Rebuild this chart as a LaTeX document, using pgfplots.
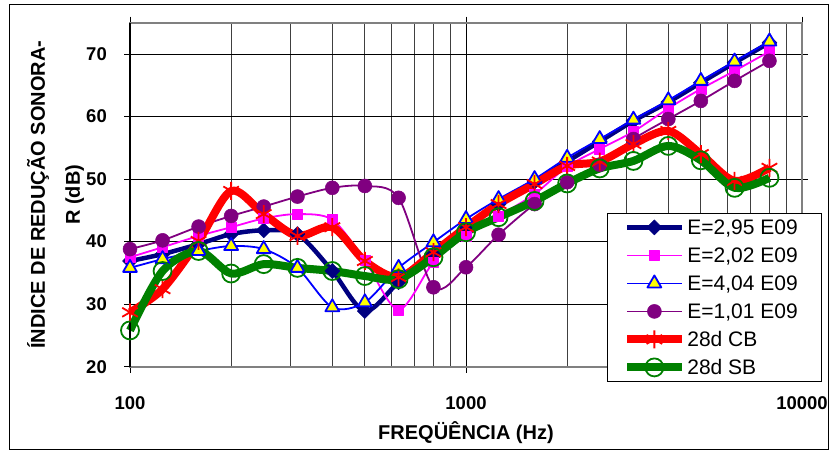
\documentclass[border=0pt]{standalone}
\usepackage{fontspec}
\setmainfont{Liberation Sans}
\usepackage{pgfplots}
\pgfplotsset{compat=1.18}

\definecolor{cnavy}{RGB}{0,0,128}
\definecolor{cpink}{RGB}{255,0,255}
\definecolor{cblue}{RGB}{0,0,255}
\definecolor{cpurple}{RGB}{128,0,128}
\definecolor{cred}{RGB}{255,0,0}
\definecolor{cgreen}{RGB}{0,128,0}
\definecolor{cyellow}{RGB}{255,255,0}
\definecolor{cframe}{RGB}{128,128,128}

\begin{document}
\begin{tikzpicture}
\useasboundingbox (0pt,0pt) rectangle (830pt,450pt);
\draw[black, line width=0.8pt] (9pt,1pt) rectangle (828pt,446pt);
\begin{axis}[
    at={(130pt,83.3pt)}, anchor=south west,
    scale only axis, width=672pt, height=344pt,
    xmode=log, xmin=100, xmax=10000,
    ymin=20, ymax=75,
    xtick={100,1000,10000},
    xticklabels={100,1000,10000},
    minor xtick={200,300,400,500,600,700,800,900,2000,3000,4000,5000,6000,7000,8000,9000},
    ytick={20,30,40,50,60,70},
    /pgf/number format/assume math mode=true,
    ticklabel style={font=\bfseries\fontsize{18.5}{22}\selectfont},
    xticklabel style={anchor=center, yshift=-30.3pt},
    yticklabel style={anchor=east, inner sep=0pt, xshift=-17pt},
    tick align=outside, major tick length=6pt, minor tick length=0pt,
    tick style={black, line width=0.9pt},
    xmajorgrids, xminorgrids, ymajorgrids,
    major grid style={black, line width=0.8pt},
    minor grid style={black!75, line width=0.8pt},
    axis line style={cframe, line width=1.6pt},
    xlabel={FREQÜÊNCIA (Hz)},
    xlabel style={at={(axis description cs:0.5,-0.192)}, anchor=center, font=\bfseries\fontsize{20}{24}\selectfont},
    ylabel={ÍNDICE DE REDUÇÃO SONORA-\\R (dB)},
    ylabel style={at={(axis description cs:-0.1109,0.5)}, anchor=center, align=center, font=\bfseries\fontsize{20}{35}\selectfont},
    clip=false,
    legend cell align=left,
    legend style={at={(rel axis cs:0.7098,0.4468)}, anchor=north west,
        draw=black, line width=0.8pt, fill=white, inner xsep=0pt, inner ysep=0pt,
        font=\fontsize{21}{25}\selectfont,
        nodes={inner ysep=6.5pt, text height=15pt, text depth=0pt, inner xsep=2pt}},
    legend image code/.code={
        \path (0pt,0pt);
        \draw[mark repeat=2,mark phase=2,#1] plot coordinates {(16pt,0pt) (43pt,0pt) (70pt,0pt)};
    },
]
\addplot[smooth, line join=round, cnavy, line width=4.5pt, mark=square*, mark size=5.3pt,
    mark options={rotate=45, fill=cnavy, draw=cnavy, line width=0.5pt}] coordinates {
(100,36.9) (125,38.0) (160,39.6) (200,41.2) (250,41.8) (315,41.2) (400,35.3) (500,28.9) (630,33.5) (800,38.0)
(1000,42.4) (1250,46.0) (1600,49.6) (2000,52.8) (2500,56.0) (3150,59.3) (4000,62.3) (5000,65.4) (6300,68.6) (8000,71.8)
};
\addplot[smooth, line join=round, cpink, line width=1.8pt, mark=square*, mark size=5pt,
    mark options={fill=cpink, draw=cpink, line width=0.5pt}] coordinates {
(100,37.5) (125,39.1) (160,40.9) (200,42.3) (250,43.7) (315,44.4) (400,43.5) (500,37.0) (630,29.1) (800,36.7)
(1000,40.9) (1250,44.1) (1600,47.6) (2000,52.0) (2500,54.8) (3150,57.6) (4000,61.3) (5000,64.4) (6300,67.3) (8000,70.4)
};
\addplot[smooth, line join=round, cblue, line width=1.8pt, mark=triangle*, mark size=8pt,
    mark options={fill=cyellow, draw=cblue, line width=1.8pt}] coordinates {
(100,35.8) (125,37.2) (160,38.5) (200,39.3) (250,38.8) (315,35.8) (400,29.5) (500,30.3) (630,35.8) (800,39.9)
(1000,43.6) (1250,46.8) (1600,50.0) (2000,53.4) (2500,56.4) (3150,59.5) (4000,62.6) (5000,65.7) (6300,68.8) (8000,72.0)
};
\addplot[smooth, line join=round, cpurple, line width=1.8pt, mark=*, mark size=7pt,
    mark options={fill=cpurple, draw=cpurple, line width=0.5pt}] coordinates {
(100,38.8) (125,40.2) (160,42.4) (200,44.1) (250,45.6) (315,47.2) (400,48.6) (500,48.9) (630,47.0) (800,32.7)
(1000,35.9) (1250,41.1) (1600,46.0) (2000,49.5) (2500,52.3) (3150,56.4) (4000,59.6) (5000,62.5) (6300,65.7) (8000,68.9)
};
\addplot[smooth, line join=round, cred, line width=8pt, mark=asterisk, mark size=9pt,
    mark options={draw=cred, line width=1.8pt}] coordinates {
(100,28.7) (125,32.4) (160,40.1) (200,48.1) (250,44.4) (315,40.9) (400,42.3) (500,36.9) (630,34.3) (800,38.3)
(1000,42.3) (1250,46.0) (1600,49.2) (2000,52.1) (2500,52.8) (3150,55.6) (4000,57.7) (5000,54.0) (6300,49.7) (8000,51.8)
};
\addplot[smooth, line join=round, cgreen, line width=8pt, mark=o, mark size=9pt,
    mark options={draw=cgreen, line width=1.8pt}] coordinates {
(100,25.8) (125,35.3) (160,38.5) (200,34.9) (250,36.4) (315,35.8) (400,35.3) (500,34.5) (630,34.0) (800,37.5)
(1000,41.5) (1250,43.9) (1600,46.5) (2000,49.3) (2500,51.7) (3150,52.9) (4000,55.3) (5000,53.0) (6300,48.6) (8000,50.2)
};
\legend{{\makebox[132pt][l]{E=2,95 E09}}, {E=2,02 E09}, {E=4,04 E09}, {E=1,01 E09}, {28d CB}, {28d SB}}
\draw[black, line width=1.3pt] (rel axis cs:0,0) -- (rel axis cs:0,1);
\end{axis}
\end{tikzpicture}
\end{document}
